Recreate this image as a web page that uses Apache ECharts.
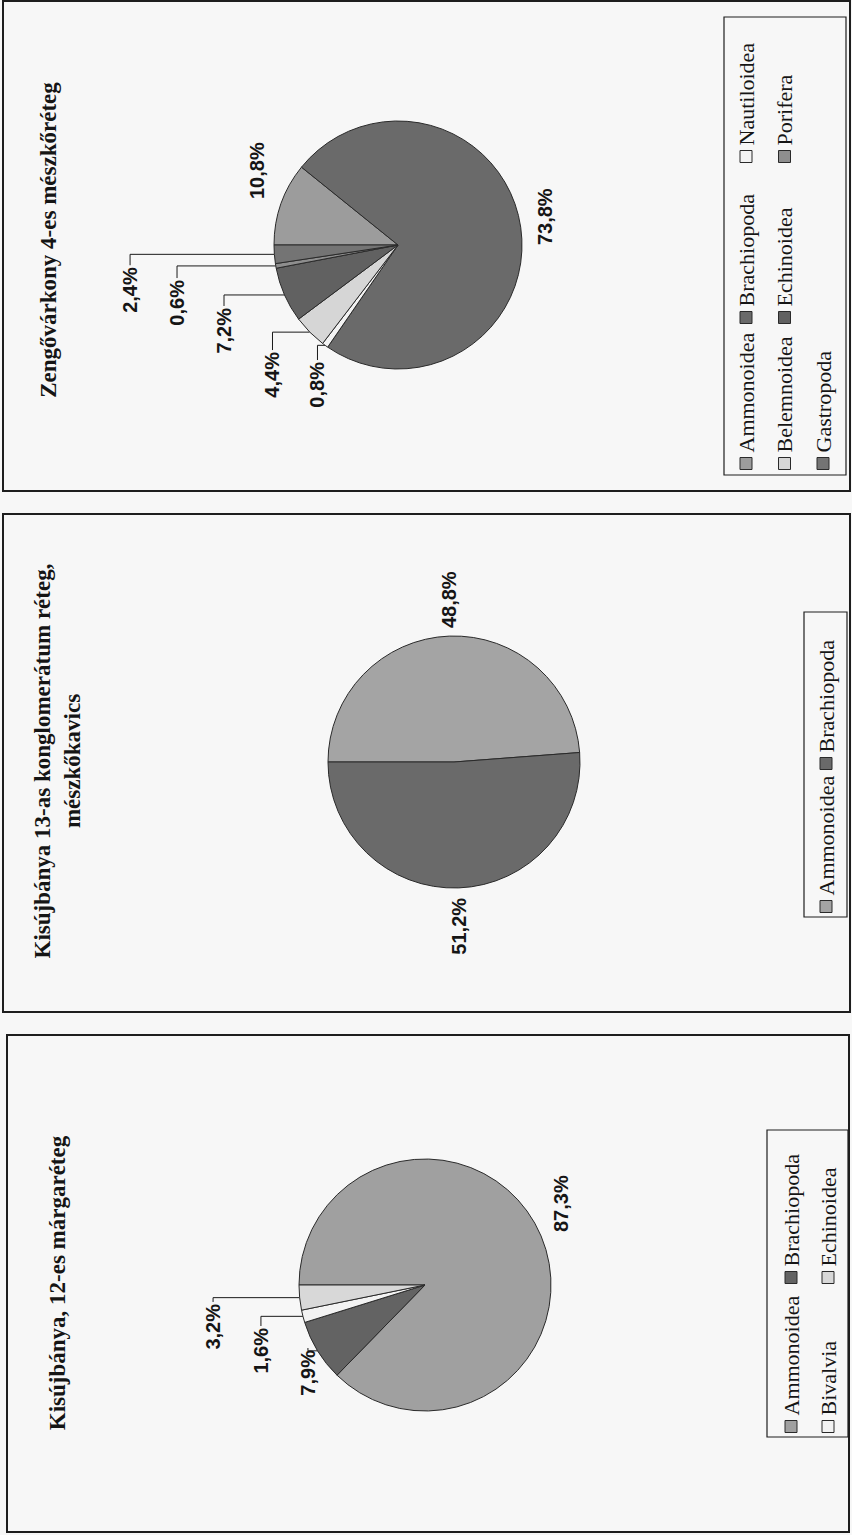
<!DOCTYPE html>
<html>
<head>
<meta charset="utf-8">
<title>Ősmaradvány-csoportok megoszlása</title>
<script src="https://cdn.jsdelivr.net/npm/echarts@6/dist/echarts.min.js"></script>
<style>
  html, body { margin: 0; padding: 0; width: 852px; height: 1535px; overflow: hidden; background: #f7f7f7; }
  /* The page is laid out landscape and turned a quarter to the left. */
  #chart { position: absolute; left: 0; top: 0; width: 1535px; height: 852px;
           transform-origin: 0 0; transform: translate(0, 1535px) rotate(-90deg); }
</style>
</head>
<body>
<div id="chart"></div>
<script>
// ---- Data: share of fossil groups (%) ----
const titleKisujbanya12 = 'Kisújbánya, 12-es márgaréteg';
const groupsKisujbanya12 = ['Ammonoidea', 'Brachiopoda', 'Bivalvia', 'Echinoidea'];
const sharesKisujbanya12 = [87.3, 7.9, 1.6, 3.2];

const titleKisujbanya13 = 'Kisújbánya 13-as konglomerátum réteg,\nmészkőkavics';
const groupsKisujbanya13 = ['Ammonoidea', 'Brachiopoda'];
const sharesKisujbanya13 = [48.8, 51.2];

const titleZengovarkony = 'Zengővárkony 4-es mészkőréteg';
const groupsZengovarkony = ['Ammonoidea', 'Brachiopoda', 'Nautiloidea', 'Belemnoidea',
                            'Echinoidea', 'Porifera', 'Gastropoda'];
const sharesZengovarkony = [10.8, 73.8, 0.8, 4.4, 7.2, 0.6, 2.4];

// ---- Styling ----
const shadesKisujbanya12 = ['#a0a0a0', '#636363', '#f3f3f3', '#d8d8d8'];
const shadesKisujbanya13 = ['#a4a4a4', '#6a6a6a'];
const shadesZengovarkony = ['#9c9c9c', '#6a6a6a', '#f3f3f3', '#d6d6d6', '#616161', '#8e8e8e', '#747474'];

const ink = '#151515';
const frameInk = '#1e1e1e';
const serif = "'Liberation Serif', 'DejaVu Serif', serif";
const sans = "'Liberation Sans', Arial, sans-serif";

// Label leader settings per slice: [length, length2, distance to line, leader visible]
const panels = [
  {
    title: titleKisujbanya12, titleX: 252, titleTop: 42,
    names: groupsKisujbanya12, values: sharesKisujbanya12, shades: shadesKisujbanya12,
    center: [250, 425], radius: 126,
    leads: [[21.7, -4.4, 0, false], [11.3, -8.7, 2, true], [43.4, -1.1, 2, true], [87, -4.4, 2, true]],
    legendCols: [{ left: 102, top: 780, idx: [0, 2] }, { left: 251, top: 780, idx: [1, 3] }],
    legendGap: 15,
    frame: { x: 3, y: 7, width: 497, height: 842 },
    legendBox: { x: 98, y: 767, width: 307, height: 81 }
  },
  {
    title: titleKisujbanya13, titleX: 774, titleTop: 27,
    names: groupsKisujbanya13, values: sharesKisujbanya13, shades: shadesKisujbanya13,
    center: [773, 454], radius: 126,
    leads: [[4, 0, 4, false], [5, 0, 5, false]],
    legendCols: [{ left: 622, top: 815, idx: [0] }, { left: 765, top: 815, idx: [1] }],
    legendGap: 15,
    frame: { x: 523, y: 3, width: 498, height: 847 },
    legendBox: { x: 618, y: 804, width: 305, height: 43 }
  },
  {
    title: titleZengovarkony, titleX: 1295, titleTop: 33,
    names: groupsZengovarkony, values: sharesZengovarkony, shades: shadesZengovarkony,
    center: [1290, 398], radius: 124,
    leads: [[25.6, -3.8, 0, false], [24.7, -21.5, 0, false], [13, 4.2, 2, true], [52.4, -18.9, 2, true],
            [66.1, -15.6, 2, true], [100.2, -4.8, 2, true], [144.7, 0, 2, true]],
    legendCols: [{ left: 1065, top: 735, idx: [0, 3, 6] }, { left: 1211, top: 735, idx: [1, 4] },
                 { left: 1372, top: 735, idx: [2, 5] }],
    legendGap: 16.5,
    frame: { x: 1044, y: 3, width: 490, height: 847 },
    legendBox: { x: 1060, y: 724, width: 458, height: 122 }
  }
];

const percentText = p => p.value.toFixed(1).replace('.', ',') + '%';

// Leader lines run straight from the slice edge, then turn into the label end.
const elbowLeader = p => {
  const pts = p.labelLinePoints;
  if (!pts || pts.length < 3) return {};
  return { labelLinePoints: [pts[0], [pts[0][0], pts[2][1]], pts[2]] };
};

const titles = [];
const legends = [];
const series = [];
const frames = [];

panels.forEach(pn => {
  titles.push({
    text: pn.title, left: pn.titleX, top: pn.titleTop, textAlign: 'center', padding: 0,
    textStyle: { fontFamily: serif, fontWeight: 'bold', fontSize: 23, lineHeight: 30, color: ink }
  });

  pn.legendCols.forEach(col => {
    legends.push({
      orient: 'vertical', left: col.left, top: col.top, padding: 0,
      itemGap: pn.legendGap, itemWidth: 12, itemHeight: 12, icon: 'rect',
      selectedMode: false,
      itemStyle: { borderColor: '#2a2a2a', borderWidth: 1 },
      textStyle: { fontFamily: serif, fontSize: 22, lineHeight: 22, color: ink },
      data: col.idx.map(i => ({ name: pn.names[i], itemStyle: { color: pn.shades[i] } }))
    });
  });

  series.push({
    type: 'pie',
    center: pn.center,
    radius: pn.radius,
    startAngle: 90,
    clockwise: true,
    avoidLabelOverlap: false,
    silent: true,
    emphasis: { disabled: true },
    itemStyle: { borderColor: '#2a2a2a', borderWidth: 1 },
    label: {
      show: true, position: 'outside', formatter: percentText,
      fontFamily: sans, fontWeight: 'bold', fontSize: 20, color: ink
    },
    labelLine: { show: true, minTurnAngle: 0, maxSurfaceAngle: 0, lineStyle: { color: '#1a1a1a', width: 1 } },
    labelLayout: elbowLeader,
    data: pn.names.map((name, i) => ({
      name: name,
      value: pn.values[i],
      itemStyle: { color: pn.shades[i] },
      label: { distanceToLabelLine: pn.leads[i][2] },
      labelLine: { show: pn.leads[i][3], length: pn.leads[i][0], length2: pn.leads[i][1] }
    }))
  });

  frames.push({ type: 'rect', silent: true, shape: pn.frame,
                style: { fill: 'none', stroke: frameInk, lineWidth: 2 } });
  frames.push({ type: 'rect', silent: true, shape: pn.legendBox,
                style: { fill: 'none', stroke: frameInk, lineWidth: 1.2 } });
});

const chart = echarts.init(document.getElementById('chart'), null, { renderer: 'svg' });
chart.setOption({
  backgroundColor: '#f7f7f7',
  animation: false,
  title: titles,
  legend: legends,
  graphic: { elements: frames },
  series: series
});
</script>
</body>
</html>
